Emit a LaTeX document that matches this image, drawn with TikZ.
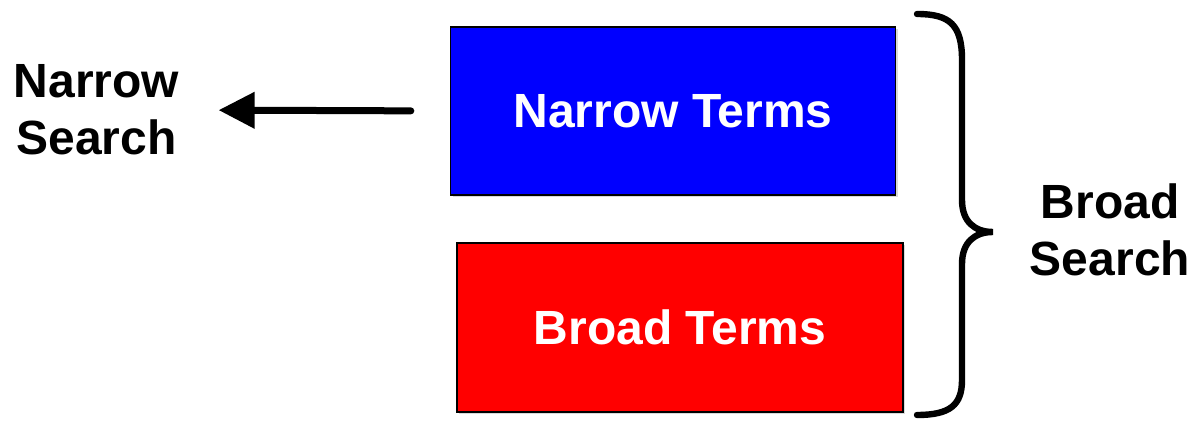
\documentclass[tikz,border=0pt]{standalone}
\usepackage{fontspec}
\setmainfont{Liberation Sans}
\usetikzlibrary{arrows.meta,shadows}

\begin{document}
\begin{tikzpicture}[x=0.5pt, y=-0.5pt]

\tikzstyle{line} = [draw, line width=3.5pt, line cap=round, -{Triangle[length=18pt,width=17.5pt]}]
\tikzstyle{label} = [align=center, inner sep=0pt, font=\fontsize{24pt}{28.5pt}\selectfont\bfseries]
\tikzstyle{block} = [draw, line width=0.7pt, rectangle, text=white, label, drop shadow={shadow xshift=1pt, shadow yshift=-1pt, opacity=.3}]

\useasboundingbox (0,0) rectangle (1193,426);

\node [block, fill=blue, minimum width=222.5pt, minimum height=84pt] (narrow) at (673,111) {Narrow Terms};
\node [block, fill=red, minimum width=223pt, minimum height=84.5pt] (broad) at (680,327.5) {Broad Terms};
\node [label] (nsearch) at (96.5,110) {Narrow\\Search};
\node [label] (bsearch) at (1110,230) {Broad\\Search};

%arrows
\path [line, shorten <=19.5pt, shorten >=19.5pt] (narrow.west) -- (nsearch.east);

%brace
\draw [line width=3.2pt, line cap=round]
  (917,14) .. controls (950,14) and (962,25) .. (962,60) -- (962,200)
  .. controls (962,222) and (975,232) .. (993,232)
  .. controls (975,232) and (962,242) .. (962,264) -- (962,380)
  .. controls (962,405) and (950,415) .. (917,415);
\end{tikzpicture}
\end{document}
